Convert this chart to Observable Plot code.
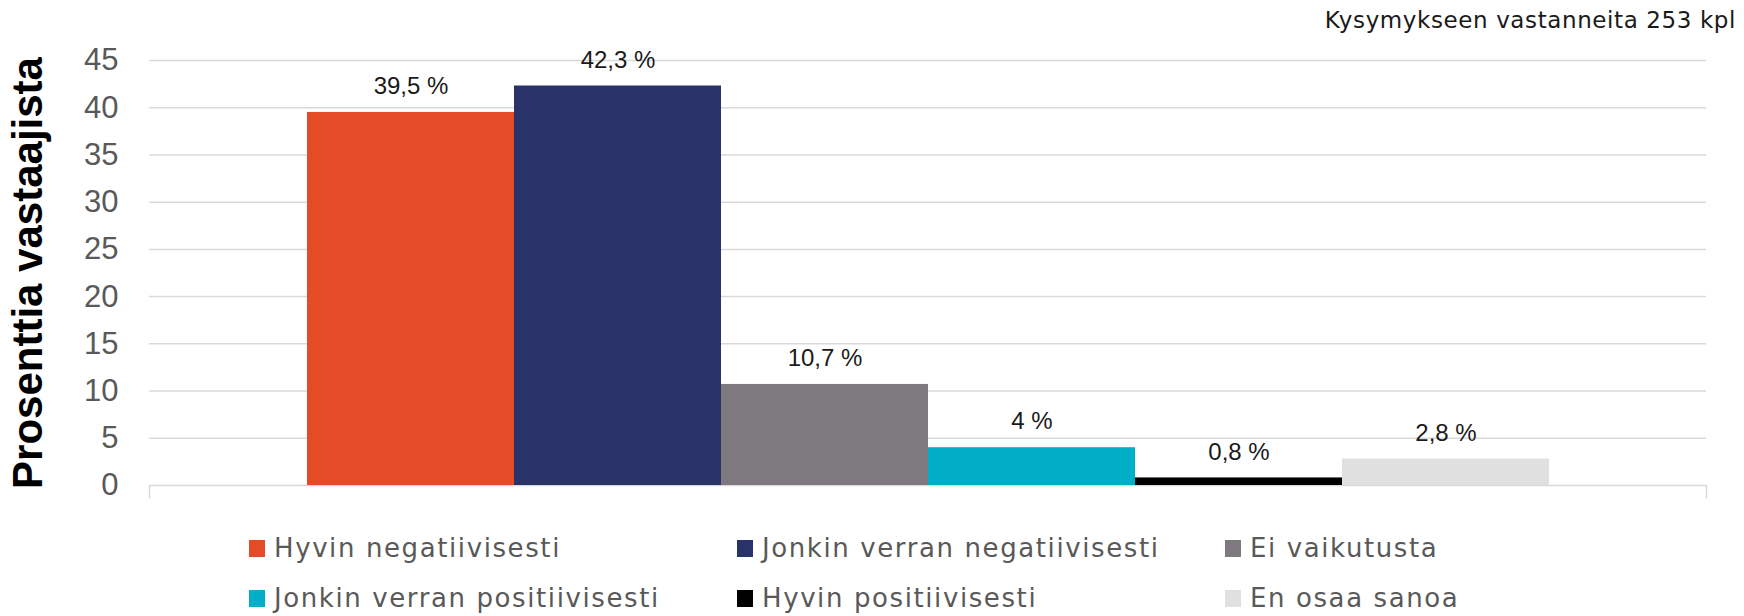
<!DOCTYPE html>
<html>
<head>
<meta charset="utf-8">
<script src="https://cdn.jsdelivr.net/npm/d3@7"></script>
<script src="https://cdn.jsdelivr.net/npm/@observablehq/plot@0.6"></script>
<style>
  html, body { margin: 0; padding: 0; background: #fff; }
  #wrap { position: relative; width: 1744px; height: 616px; overflow: hidden; }
  #note { position: absolute; top: 7px; right: 8px; font-family: "DejaVu Sans", sans-serif; font-size: 23px; letter-spacing: 0.6px; color: #1a1a1a; white-space: nowrap; }
  #chart svg { display: block; }
  g[aria-label="y-axis tick label"] text { fill: #595959; }
  g[aria-label="y-axis label"] text { font-size: 42px; font-weight: bold; fill: #000; font-family: "Liberation Sans", Arial, sans-serif; }
  #legend { padding-left: 249px; padding-top: 35px; display: grid; grid-template-columns: 488px 488px 488px; row-gap: 24px; font-family: "DejaVu Sans", sans-serif; font-size: 26px; letter-spacing: 1.6px; color: #595959; }
  .item { display: flex; align-items: center; height: 26px; white-space: nowrap; }
  .sw { width: 16px; height: 17px; margin-right: 9px; flex: none; }
</style>
</head>
<body>
<div id="wrap">
  <div id="chart"></div>
  <div id="legend"></div>
  <div id="note"></div>
</div>
<script>
const series = ["Hyvin negatiivisesti", "Jonkin verran negatiivisesti", "Ei vaikutusta", "Jonkin verran positiivisesti", "Hyvin positiivisesti", "En osaa sanoa"];
const values = [39.5, 42.3, 10.7, 4, 0.8, 2.8];
const valueLabels = ["39,5 %", "42,3 %", "10,7 %", "4 %", "0,8 %", "2,8 %"];
const colors = ["#E54B27", "#29336A", "#7E797F", "#00AEC7", "#000000", "#E0E0E0"];
const yTicks = [0, 5, 10, 15, 20, 25, 30, 35, 40, 45];
const yLabel = "Prosenttia vastaajista";
const noteText = "Kysymykseen vastanneita 253 kpl";

const data = series.map((s, i) => ({series: s, value: values[i], label: valueLabels[i]}));

const chart = Plot.plot({
  width: 1744,
  height: 500,
  marginLeft: 149,
  marginRight: 38,
  marginTop: 60,
  marginBottom: 15,
  style: {fontFamily: "'Liberation Sans', Arial, sans-serif", overflow: "visible"},
  x: {domain: series, paddingInner: 0, paddingOuter: 0.743, axis: null},
  y: {domain: [0, 45]},
  color: {domain: series, range: colors},
  marks: [
    Plot.gridY(yTicks, {stroke: "#d9d9d9", strokeOpacity: 1, strokeWidth: 1.5}),
    Plot.frame({anchor: "left", stroke: "#d9d9d9", strokeWidth: 1.5, insetTop: 425, insetBottom: -12}),
    Plot.frame({anchor: "right", stroke: "#d9d9d9", strokeWidth: 1.5, insetTop: 425, insetBottom: -12}),
    Plot.axisY(yTicks, {tickSize: 0, tickPadding: 31, fontSize: 31, label: yLabel, labelAnchor: "center", labelOffset: 137, labelArrow: "none"}),
    Plot.barY(data, {x: "series", y: "value", fill: "series"}),
    Plot.text(data, {x: "series", y: "value", text: "label", dy: -26, fontSize: 24, fill: "#1a1a1a"})
  ]
});
document.getElementById("chart").appendChild(chart);

document.getElementById("note").textContent = noteText;

const legend = d3.select("#legend");
series.forEach((s, i) => {
  const it = legend.append("div").attr("class", "item");
  it.append("div").attr("class", "sw").style("background", colors[i]);
  it.append("span").text(s);
});
</script>
</body>
</html>
